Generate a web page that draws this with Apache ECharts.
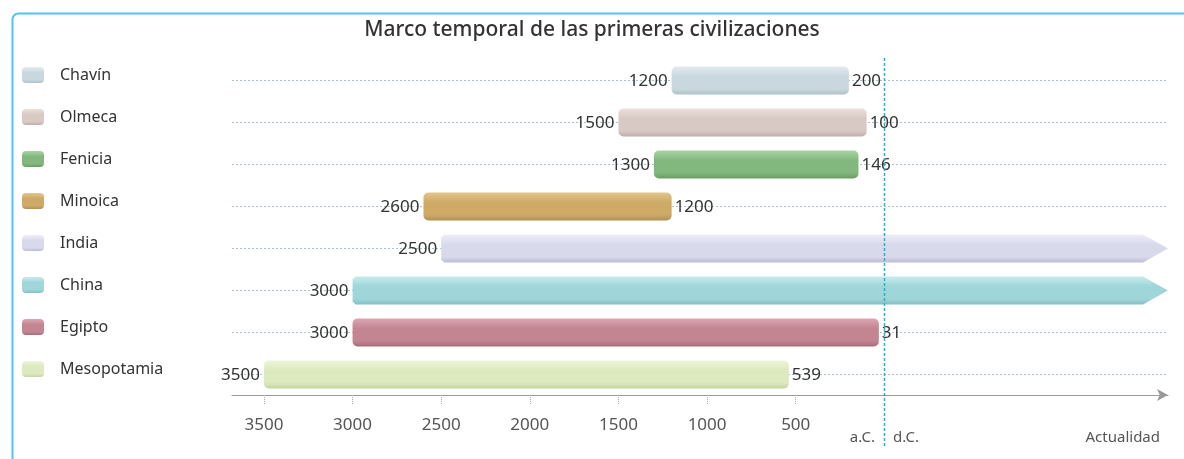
<!DOCTYPE html>
<html><head><meta charset="utf-8">
<script src="https://cdn.jsdelivr.net/npm/echarts@6/dist/echarts.min.js"></script>
<style>html,body{margin:0;padding:0;background:#fff}#c{width:1184px;height:459px}</style>
</head><body><div id="c"></div>
<script>
// ---- data ----
const chartTitle = 'Marco temporal de las primeras civilizaciones';
const categories = ['Chavín','Olmeca','Fenicia','Minoica','India','China','Egipto','Mesopotamia'];
const startYears = [-1200,-1500,-1300,-2600,-2500,-3000,-3000,-3500];
const endYears   = [-200,-100,-146,-1200,null,null,-31,-539]; // null = hasta la actualidad
const tickYears  = [-3500,-3000,-2500,-2000,-1500,-1000,-500];
const eraLabels  = ['a.C.','d.C.'];
const presentLabel = 'Actualidad';

// ---- styles ----
const X_MIN = -3680, X_MAX = 1600;
const FONT = 'Noto Sans';
const palette = [
  ['#e3ebef','#c9d8de','#aec1c9'],
  ['#ebe0dc','#d8c9c4','#bfada8'],
  ['#a9d3a3','#82b77e','#699c66'],
  ['#e3c68c','#cfaa66','#ad9058'],
  ['#eeeef8','#d9d9ec','#bbbcd6'],
  ['#c8ebee','#9fd6da','#84bfc3'],
  ['#dca6b2','#c48593','#a66c7b'],
  ['#eef5d9','#dde9bf','#c5d3a4']
];
function grad(c){
  return new echarts.graphic.LinearGradient(0,0,0,1,[
    {offset:0,color:c[0]},{offset:0.35,color:c[1]},{offset:0.8,color:c[1]},{offset:1,color:c[2]}]);
}
const labelStyle = {font:'17px "'+FONT+'"', fill:'#333'};

function makeRender(i){
  return function(params, api){
    const cat = api.value(0), s = api.value(1), e = api.value(2);
    const cs = params.coordSys;
    const p0 = api.coord([s, cat]);
    const p1 = api.coord([e, cat]);
    const band = api.size([0,1])[1];
    const h = Math.round(band*0.67);
    const cy = Math.round(p0[1]) + 0.5;
    const top = cy - h/2;
    const children = [];
    children.push({type:'line', shape:{x1:cs.x, y1:cy, x2:cs.x+cs.width, y2:cy},
      style:{stroke:'#a8c2ce', lineWidth:1, lineDash:[2,2]}});
    const fill = grad(palette[i]);
    if (endYears[i] === null) {
      const tip = 25;
      children.push({type:'polygon', shape:{points:[
        [p0[0]+3, top],[p1[0]-tip, top],[p1[0], cy],[p1[0]-tip, top+h],[p0[0]+3, top+h],[p0[0], top+h-3],[p0[0], top+3]]},
        style:{fill:fill}});
    } else {
      children.push({type:'rect', shape:{x:p0[0], y:top, width:p1[0]-p0[0], height:h, r:5},
        style:{fill:fill}});
      children.push({type:'text', x:p1[0]+3, y:cy+1, style:Object.assign({text:String(Math.abs(endYears[i])), textAlign:'left', textVerticalAlign:'middle'}, labelStyle)});
    }
    children.push({type:'text', x:p0[0]-4, y:cy+1, style:Object.assign({text:String(Math.abs(startYears[i])), textAlign:'right', textVerticalAlign:'middle'}, labelStyle)});
    return {type:'group', children:children};
  };
}

const series = categories.map(function(name, i){
  return {
    name: name, type:'custom', coordinateSystem:'cartesian2d',
    itemStyle:{color: grad(palette[i])},
    encode:{x:[1,2], y:0},
    data:[[i, startYears[i], endYears[i] === null ? X_MAX : endYears[i]]],
    renderItem: makeRender(i), clip:false, z:3
  };
});
series.push({
  name:'divider', type:'custom', coordinateSystem:'cartesian2d', silent:true, clip:false, z:4,
  encode:{x:0, y:1}, data:[[0, 0]],
  renderItem:function(params, api){
    const cs = params.coordSys;
    const x = Math.round(api.coord([api.value(0), 0])[0]) + 0.5;
    return {type:'line', shape:{x1:x, y1:cs.y-1, x2:x, y2:cs.y+cs.height+52},
      style:{stroke:'#22b4c8', lineWidth:1.5, lineDash:[3,2]}};
  }
});

const chart = echarts.init(document.getElementById('c'), null, {renderer:'canvas'});
chart.setOption({
  animation:false,
  title:{text:chartTitle, left:'center', top:15,
    textStyle:{fontFamily:FONT, fontSize:21, fontWeight:500, color:'#333'}},
  legend:{data:categories, orient:'vertical', left:22, top:67, padding:0,
    itemWidth:22, itemHeight:16, itemGap:26, icon:'roundRect', selectedMode:false,
    textStyle:{fontFamily:FONT, fontSize:16, color:'#333', padding:[0,0,0,11]}},
  graphic:[{type:'rect', left:10, top:11, shape:{width:1400, height:480, r:6},
    style:{fill:'none', stroke:'#4fc3f2', lineWidth:2}, silent:true, z:-10}],
  grid:{left:232, right:16, top:59, height:336, containLabel:false},
  xAxis:[{
    type:'value', min:X_MIN, max:X_MAX, position:'bottom',
    axisLine:{show:true, lineStyle:{color:'#999', width:1}, symbol:['none','arrow'], symbolSize:[9,11]},
    axisTick:{show:true, customValues:tickYears, length:10, inside:false, lineStyle:{color:'#aaa', type:'dotted'}},
    axisLabel:{customValues:tickYears, formatter:function(v){return String(Math.abs(v));},
      margin:22, fontFamily:FONT, fontSize:17, color:'#555'},
    splitLine:{show:false}
  },{
    type:'value', min:X_MIN, max:X_MAX, position:'bottom',
    axisLine:{show:false}, axisTick:{show:false}, splitLine:{show:false},
    axisLabel:{customValues:[0, X_MAX], alignMaxLabel:'right', margin:35, fontFamily:FONT, fontSize:15, color:'#555',
      formatter:function(v){ return v === 0 ? '{a|'+eraLabels[0]+'}{b|'+eraLabels[1]+'}' : '{c|'+presentLabel+'}'; },
      rich:{a:{padding:[0,9,0,0], fontFamily:FONT, fontSize:15, color:'#555'},
            b:{padding:[0,0,0,9], fontFamily:FONT, fontSize:15, color:'#555'},
            c:{padding:[0,8,0,0], fontFamily:FONT, fontSize:15, color:'#555'}}}
  }],
  yAxis:{type:'category', data:categories, inverse:true,
    axisLine:{show:false}, axisTick:{show:false}, axisLabel:{show:false}, splitLine:{show:false}},
  series:series
});
</script></body></html>
